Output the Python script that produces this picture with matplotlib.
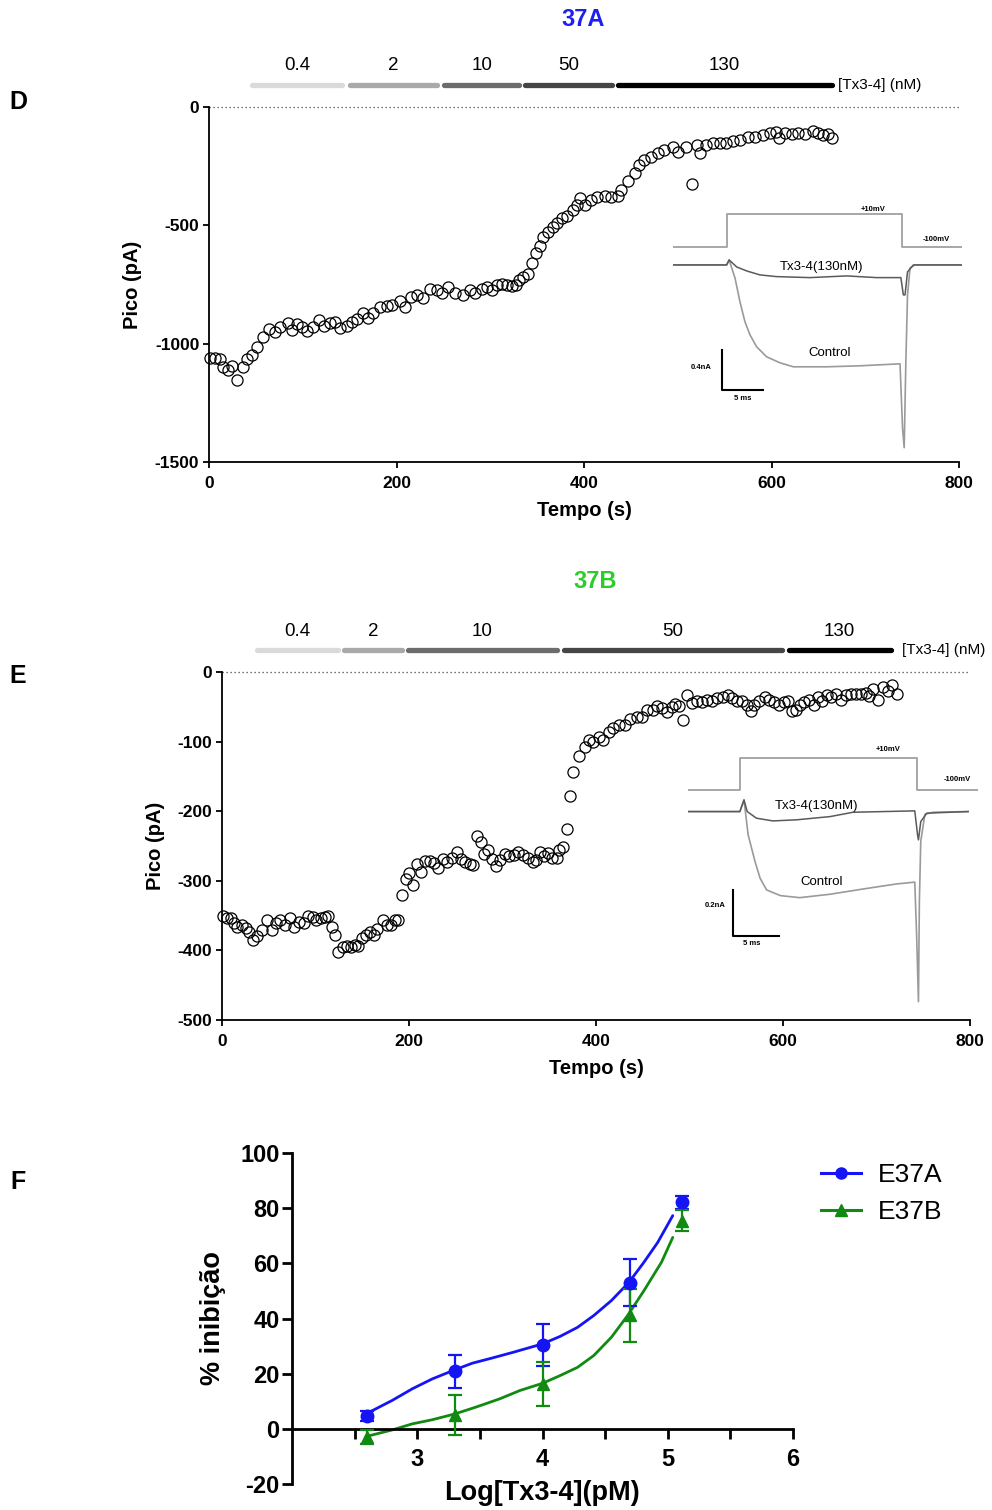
import matplotlib.pyplot as plt
import matplotlib.transforms as mtransforms
from matplotlib.lines import Line2D

plt.rcParams['font.family'] = ['Liberation Sans', 'DejaVu Sans']
plt.rcParams['axes.unicode_minus'] = False

# ---------------- panel D (37A): peak current vs time ----------------
tA = [1, 6.4, 11.7, 15.3, 20.6, 25, 29.5, 36, 41, 45.5,
      51, 58, 64, 70, 76, 84, 88, 93.5, 99, 104,
      110.6, 117, 123, 129, 134, 140, 147, 153, 158, 164.6,
      170, 175, 182, 189.5, 195, 204, 209, 215, 221.5, 228,
      236, 243, 248, 255, 262, 271, 278, 283.7, 291, 296,
      301.5, 307, 312, 317.5, 323, 327.5, 331, 335, 340.6, 344,
      349, 352.7, 356.6, 362, 366.6, 371.6, 377, 382, 388, 393,
      395.8, 401, 407, 413.5, 422, 429, 436, 439.6, 446.6, 454,
      459, 464.5, 471.5, 478.6, 485.7, 494.6, 500, 509, 515.6, 520,
      524, 530.6, 537.6, 544.7, 551.8, 558.9, 566, 575, 582, 591,
      598, 604.5, 608, 614, 621.5, 628.6, 635.7, 644.6, 650, 655,
      660.6, 665]
pA = [-1062, -1062, -1066, -1097, -1111, -1094, -1153, -1100, -1066, -1048,
      -1013, -970, -939, -949, -928, -914, -942, -918, -931, -945,
      -931, -900, -925, -911, -908, -935, -925, -907, -897, -869,
      -890, -872, -846, -841, -837, -818, -846, -801, -794, -808,
      -770, -773, -787, -762, -787, -794, -773, -785, -770, -759,
      -773, -752, -748, -752, -755, -752, -731, -717, -706, -661,
      -618, -587, -548, -527, -506, -492, -468, -461, -435, -414,
      -386, -414, -393, -380, -376, -379, -376, -351, -311, -280,
      -245, -224, -210, -196, -182, -170, -189, -168, -327, -161,
      -196, -161, -153, -151, -153, -142, -139, -125, -128, -118,
      -111, -104, -132, -111, -114, -111, -114, -100, -111, -118,
      -114, -132]

# ---------------- panel E (37B) ----------------
tB = [0.7, 5, 9.3, 12.8, 16.4, 21, 25.7, 29.2, 32.8, 37,
      42.4, 48.5, 53, 57.8, 62, 67.4, 72.7, 77, 82.7, 87.7,
      92.3, 97, 101, 105.5, 110, 113.7, 117.3, 120.8, 124.4, 129,
      133.3, 137.6, 142, 145.8, 149.4, 154, 158.3, 162.6, 166.2, 172,
      176.2, 180.5, 185, 188.6, 192.2, 196.5, 200.4, 204.6, 208.2, 212.5,
      217.1, 222.5, 226.8, 231.4, 236, 241, 245.6, 251.7, 255.3, 260,
      265.2, 268.8, 272.4, 276.7, 280.3, 284.9, 288.5, 293, 297.3, 302.7,
      307.3, 312.3, 317, 322.3, 327.7, 332.3, 335.9, 340.2, 344.5, 349,
      352.7, 358, 360.8, 365, 368.6, 372, 375.8, 382, 388, 392.8,
      397, 403.5, 407.8, 413.4, 418.7, 425, 431, 436.5, 443.6, 449,
      454.4, 460.8, 465, 470.5, 475.8, 481.2, 484.8, 488.3, 493, 497.4,
      502.8, 508.1, 513.5, 518.8, 524.2, 529.5, 536, 541, 545.6, 551,
      556.3, 561.7, 565.3, 568.9, 574.3, 580.3, 585, 590.3, 595.7, 601,
      605.3, 610, 613.5, 618.2, 622.4, 627.8, 633.1, 637.4, 642, 646.7,
      651.6, 656.3, 661.7, 667, 672.4, 677.7, 683, 688.4, 692, 696.6,
      701.6, 707.3, 712.3, 717, 721.6]
pB = [-351, -354, -354, -360, -366, -364, -368, -374, -385, -380,
      -370, -357, -370, -360, -357, -364, -354, -366, -359, -360,
      -350, -352, -356, -354, -352, -350, -366, -378, -403, -395,
      -393, -395, -392, -394, -382, -378, -374, -378, -369, -356,
      -364, -364, -356, -357, -320, -298, -289, -306, -276, -288,
      -271, -271, -274, -281, -269, -273, -267, -259, -269, -273,
      -276, -278, -236, -244, -262, -256, -269, -279, -270, -261,
      -264, -263, -259, -263, -267, -273, -270, -259, -264, -260,
      -267, -267, -256, -251, -226, -178, -143, -121, -108, -98,
      -100, -94, -98, -86, -81, -76, -76, -68, -64, -65,
      -55, -54, -49, -52, -57, -50, -46, -49, -69, -33,
      -44, -41, -43, -40, -42, -38, -36, -33, -37, -41,
      -41, -47, -56, -47, -41, -36, -40, -43, -48, -43,
      -41, -56, -54, -47, -43, -40, -48, -36, -41, -33,
      -36, -31, -40, -33, -31, -32, -31, -30, -35, -24,
      -40, -21, -28, -18, -31]

# toxin application periods (s)
conc_labels = ['0.4', '2', '10', '50', '130']
conc_colors = ['#dadada', '#a9a9a9', '#6c6c6c', '#464646', '#000000']
concA_start = [46, 150, 251, 337, 436]
concA_end = [142, 243, 331, 430, 664]
concB_start = [37, 130, 199, 366, 606]
concB_end = [124, 193, 358, 599, 715]

# ---------------- inset traces (ms, nA) ----------------
step_mv = [-100, -100, 10, 10, -100, -100]
stepA_t = [0, 6.4, 6.4, 27.4, 27.4, 34.6]
ctrlA_t = [0, 6.4, 6.7, 7.4, 8.0, 8.6, 9.2, 10.0, 11.2, 12.8, 14.4, 18.4, 22.4, 27.2,
           27.5, 27.7, 27.9, 28.1, 28.4, 29.0, 34.6]
ctrlA_i = [0, 0, 0.05, -0.13, -0.37, -0.57, -0.70, -0.82, -0.92, -0.98, -1.02, -1.02, -1.01, -0.99,
           -1.63, -1.83, -0.97, -0.30, -0.03, 0, 0]
txA_t = [0, 6.4, 6.7, 7.6, 8.8, 10.4, 12.4, 16.4, 20.8, 24.4, 27.3, 27.6, 27.8, 28.1, 28.8, 34.6]
txA_i = [0, 0, 0.05, -0.02, -0.06, -0.10, -0.117, -0.127, -0.11, -0.127, -0.127, -0.30, -0.30, -0.07, 0, 0]

stepB_t = [0, 5.6, 5.6, 24.8, 24.8, 31.5]
ctrlB_t = [0, 5.6, 6.05, 6.5, 7.25, 7.8, 8.5, 10.0, 12.1, 15.4, 19.0, 22.6, 24.6,
           24.8, 25.0, 25.1, 25.25, 25.7, 26.6, 30.4]
ctrlB_i = [0, 0, 0.051, -0.102, -0.219, -0.292, -0.343, -0.368, -0.377, -0.362, -0.339, -0.317, -0.309,
           -0.54, -0.832, -0.394, -0.13, -0.012, -0.003, 0]
txB_t = [0, 5.6, 6.05, 6.4, 7.4, 9.2, 11.8, 15.4, 17.9, 24.6, 24.9, 25.0, 25.25, 25.9, 30.4]
txB_i = [0, 0, 0.051, 0.0, -0.029, -0.041, -0.036, -0.022, -0.003, 0.003, -0.102, -0.124, -0.044, -0.007, 0]

# ---------------- panel F: concentration-response ----------------
logc = [2.602, 3.301, 4.0, 4.699, 5.114]
inhA = [4.8, 20.9, 30.4, 52.9, 82.1]
errA = [1.8, 6.0, 7.5, 8.5, 2.3]
inhB = [-3.0, 5.0, 16.1, 41.1, 75.5]
errB = [2.5, 7.4, 8.0, 9.7, 3.9]
fitA_x = [2.59, 2.80, 2.96, 3.12, 3.30, 3.44, 3.60, 3.77, 4.0, 4.14, 4.28, 4.41, 4.55,
          4.69, 4.81, 4.92, 5.04]
fitA_y = [5.4, 10.3, 14.5, 18.1, 21.4, 23.8, 25.7, 27.8, 30.8, 33.5, 36.8, 41.1, 46.5,
          53.1, 60.4, 67.6, 77.3]
fitB_x = [2.59, 2.80, 2.96, 3.12, 3.30, 3.47, 3.66, 3.82, 4.0, 4.14, 4.28, 4.41, 4.55,
          4.68, 4.81, 4.95, 5.04]
fitB_y = [-2.8, -0.4, 1.8, 3.3, 5.4, 7.9, 10.9, 13.9, 16.5, 19.3, 22.3, 26.6, 33.2,
          41.1, 50.1, 60.4, 69.4]

W, H = 992, 1510
fig = plt.figure(figsize=(W / 100, H / 100), dpi=100)


def rect(x0, y0, x1, y1):
    # pixel box (top-left origin) -> figure fraction
    return [x0 / W, 1 - y1 / H, (x1 - x0) / W, (y1 - y0) / H]


def bold_ticks(ax):
    for lab in ax.get_xticklabels() + ax.get_yticklabels():
        lab.set_fontweight('bold')


def time_panel(box, t, p, ybottom, yticks, starts, ends, unit_x):
    ax = fig.add_axes(box)
    ax.plot(t, p, 'o', ms=8, mfc='none', mec='black', mew=0.9, clip_on=False, zorder=3)
    ax.axhline(0, color='#444444', ls=(0, (1, 2.2)), lw=0.9, clip_on=False)
    ax.set_xlim(0, 800)
    ax.set_ylim(ybottom, 0)
    ax.set_xticks([0, 200, 400, 600, 800])
    ax.set_yticks(yticks)
    for s in ['top', 'right']:
        ax.spines[s].set_visible(False)
    for s in ['left', 'bottom']:
        ax.spines[s].set_linewidth(1.3)
    ax.tick_params(length=4, width=1.3, labelsize=12.5)
    ax.tick_params(axis='x', pad=6)
    ax.tick_params(axis='y', pad=3)
    bold_ticks(ax)
    ax.set_xlabel('Tempo (s)', fontsize=14.5, fontweight='bold', labelpad=7)
    ax.set_ylabel('Pico (pA)', fontsize=14.5, fontweight='bold', labelpad=9)
    trans = mtransforms.blended_transform_factory(ax.transData, ax.transAxes)
    bar_y = 1 + 22 / (box[3] * H)
    lab_y = 1 + 41 / (box[3] * H)
    for lab, col, s, e in zip(conc_labels, conc_colors, starts, ends):
        ax.plot([s, e], [bar_y, bar_y], color=col, lw=3.8, solid_capstyle='round',
                transform=trans, clip_on=False)
        ax.text((s + e) / 2, lab_y, lab, transform=trans, ha='center', va='center',
                fontsize=13.5, family=['Liberation Sans Narrow', 'Liberation Sans'])
    ax.text(unit_x, bar_y, '[Tx3-4] (nM)', transform=trans, ha='left', va='center',
            fontsize=11, family=['Liberation Sans Narrow', 'Liberation Sans'])
    return ax


def inset(box, xmax, ylim, step_t, v_low, v_high, ctrl_t, ctrl_i, tx_t, tx_i,
          bar_t, bar_i, bar_h, bar_txt, tx_pos, ctrl_pos, bar_lab_pos, ms_pos, mv_pos):
    ax = fig.add_axes(box)
    ax.axis('off')
    ax.set_xlim(0, xmax)
    ax.set_ylim(*ylim)
    vy = [v_low + (m + 100) / 110 * (v_high - v_low) for m in step_mv]
    ax.plot(step_t, vy, color='#a0a0a0', lw=1.3)
    ax.plot(ctrl_t, ctrl_i, color='#9a9a9a', lw=1.2)
    ax.plot(tx_t, tx_i, color='#5a5a5a', lw=1.1)
    ax.plot([bar_t, bar_t, bar_t + 5], [bar_i + bar_h, bar_i, bar_i], color='black', lw=1.5)
    ax.text(*tx_pos, 'Tx3-4(130nM)', fontsize=9.5, ha='center', va='center')
    ax.text(*ctrl_pos, 'Control', fontsize=9.5, ha='center', va='center')
    ax.text(*bar_lab_pos, bar_txt, fontsize=5.5, fontweight='bold', ha='center', va='center')
    ax.text(*ms_pos, '5 ms', fontsize=5.5, fontweight='bold', ha='center', va='center')
    ax.text(*mv_pos[0], '+10mV', fontsize=5.5, fontweight='bold', ha='center', va='center')
    ax.text(*mv_pos[1], '-100mV', fontsize=5.5, fontweight='bold', ha='center', va='center')
    return ax


# panel D
axD = time_panel(rect(209, 107, 959, 462), tA, pA, -1500, [0, -500, -1000, -1500],
                 concA_start, concA_end, 671)
inset(rect(673.3, 208.3, 961.7, 451.7), 34.6, (-1.87, 0.567), stepA_t, 0.183, 0.507,
      ctrlA_t, ctrlA_i, txA_t, txA_i, 5.8, -1.25, 0.4, '0.4nA',
      (17.8, -0.02), (18.8, -0.88), (3.4, -1.03), (8.3, -1.34),
      [(24.0, 0.55), (31.6, 0.25)])

# panel E
axE = time_panel(rect(222, 672, 970, 1020), tB, pB, -500, [0, -100, -200, -300, -400, -500],
                 concB_start, concB_end, 727)
inset(rect(688.3, 748.3, 978.3, 1005), 31.5, (-0.847, 0.277), stepB_t, 0.095, 0.234,
      ctrlB_t, ctrlB_i, txB_t, txB_i, 4.89, -0.543, 0.2, '0.2nA',
      (13.9, 0.026), (14.5, -0.307), (2.9, -0.41), (6.9, -0.577),
      [(21.7, 0.27), (29.2, 0.139)])

# panel F
axF = fig.add_axes(rect(292, 1153, 793, 1484))
blue, green = '#1414f5', '#118a11'
axF.plot(fitA_x, fitA_y, color=blue, lw=2.0, solid_capstyle='round')
axF.plot(fitB_x, fitB_y, color=green, lw=2.0, solid_capstyle='round')
axF.errorbar(logc, inhA, yerr=errA, fmt='o', color=blue, ms=9, capsize=5, elinewidth=1.6,
             capthick=1.6, clip_on=False, zorder=4)
axF.errorbar(logc, inhB, yerr=errB, fmt='^', color=green, ms=9, capsize=5, elinewidth=1.6,
             capthick=1.6, clip_on=False, zorder=4)
axF.set_xlim(2, 6)
axF.set_ylim(-20, 100)
axF.spines['bottom'].set_position(('data', 0))
for s in ['top', 'right']:
    axF.spines[s].set_visible(False)
for s in ['left', 'bottom']:
    axF.spines[s].set_linewidth(2)
axF.set_xticks([3, 4, 5, 6])
axF.set_xticks([2.5, 3.5, 4.5, 5.5], minor=True)
axF.set_yticks([-20, 0, 20, 40, 60, 80, 100])
axF.tick_params(length=7, width=2, labelsize=17)
axF.tick_params(which='minor', length=7, width=2)
axF.tick_params(axis='x', pad=7)
axF.tick_params(axis='y', pad=2)
bold_ticks(axF)
axF.set_xlabel('Log[Tx3-4](pM)', fontsize=19.5, fontweight='bold', labelpad=6)
axF.set_ylabel('% inibição', fontsize=19.5, fontweight='bold', labelpad=10)
handles = [Line2D([], [], color=blue, marker='o', lw=2.2, ms=8),
           Line2D([], [], color=green, marker='^', lw=2.2, ms=8)]
fig.legend(handles, ['E37A', 'E37B'], loc='upper left', bbox_to_anchor=(821 / W, 1 - 1163 / H),
           frameon=False, fontsize=19, handlelength=1.5, handletextpad=0.65,
           labelspacing=0.5, borderpad=0, borderaxespad=0)

# titles and panel letters
fig.text(583 / W, 1 - 20 / H, '37A', color='#1f1ff0', fontsize=17, fontweight='bold',
         ha='center', va='center')
fig.text(595 / W, 1 - 582 / H, '37B', color='#2ccc2c', fontsize=17, fontweight='bold',
         ha='center', va='center')
for letter, y in [('D', 102), ('E', 676), ('F', 1182)]:
    fig.text(18 / W, 1 - y / H, letter, fontsize=18, fontweight='bold', ha='center', va='center')

fig.savefig('out.png', dpi=100)
